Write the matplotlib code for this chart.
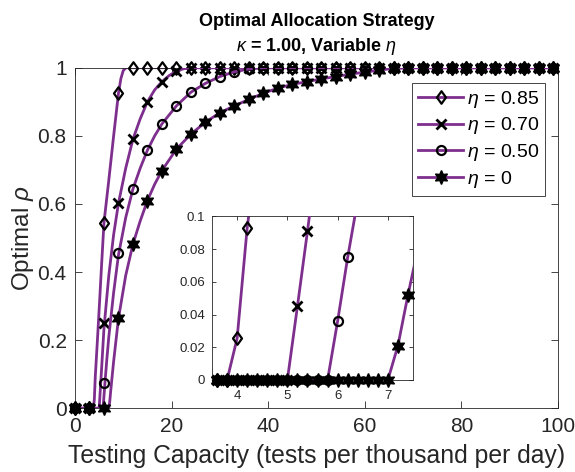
import numpy as np
import matplotlib
matplotlib.use("Agg")
import matplotlib.pyplot as plt
from matplotlib.lines import Line2D
from matplotlib.path import Path

plt.rcParams['font.family'] = ['Liberation Sans', 'DejaVu Sans']
plt.rcParams['mathtext.fontset'] = 'custom'
plt.rcParams['mathtext.rm'] = 'Liberation Sans'
plt.rcParams['mathtext.it'] = 'Liberation Sans:italic'
plt.rcParams['mathtext.bf'] = 'Liberation Sans:bold'

# Krzywe rho(T) odczytane dla kazdego eta
t85 = [0, 3.8, 4.0, 4.2, 4.6, 5.0, 5.5, 6.0, 7.0, 8.0, 9.0, 9.5, 10.0, 10.6, 100]
r85 = [0, 0, 0.0255, 0.093, 0.19, 0.29, 0.42, 0.545, 0.67, 0.80, 0.925, 0.968, 0.992, 1, 1]

t70 = [0, 5.0, 5.2, 5.4, 6.0, 7.0, 8.0, 9.0, 10.5, 12, 13.5, 15, 16.5, 18, 19.5, 21, 22.5, 24, 100]
r70 = [0, 0, 0.045, 0.091, 0.235, 0.39, 0.51, 0.602, 0.705, 0.79, 0.85, 0.90, 0.935, 0.959,
       0.977, 0.99, 0.997, 1, 1]

t50 = [0, 5.8, 6.0, 6.2, 6.6, 7.0, 8.0, 9.0, 10.5, 12, 13.5, 15, 16.5, 18, 21, 24, 27, 30,
       33, 36, 39, 100]
r50 = [0, 0, 0.036, 0.075, 0.145, 0.21, 0.34, 0.45, 0.56, 0.644, 0.705, 0.758, 0.80, 0.835,
       0.888, 0.928, 0.954, 0.974, 0.988, 0.996, 1, 1]

t0 = [0, 7.0, 7.2, 7.4, 8.0, 9.0, 10.5, 12, 13.5, 15, 16.5, 18, 21, 24, 27, 30, 33, 36, 39,
      42, 45, 48, 51, 54, 57, 60, 63, 66, 69, 100]
r0 = [0, 0, 0.021, 0.052, 0.138, 0.264, 0.39, 0.482, 0.55, 0.61, 0.658, 0.698, 0.761, 0.805,
      0.84, 0.868, 0.888, 0.907, 0.925, 0.94, 0.951, 0.959, 0.967, 0.974, 0.981, 0.987,
      0.993, 0.998, 1, 1]

# Znaczniki na glownym wykresie (co 3 jednostki)
t_mark = np.arange(0, 100, 3)
m85 = [0, 0, 0.545, 0.925] + [1] * 30
m70 = [0, 0, 0.25, 0.602, 0.79, 0.90, 0.959, 0.99] + [1] * 26
m50 = [0, 0, 0.075, 0.455, 0.644, 0.758, 0.835, 0.888, 0.928, 0.954, 0.974, 0.988,
       0.996] + [1] * 21
m0 = [0, 0, 0, 0.265, 0.482, 0.61, 0.698, 0.761, 0.805, 0.84, 0.868, 0.888, 0.907, 0.925,
      0.94, 0.951, 0.959, 0.967, 0.974, 0.981, 0.987, 0.993, 0.998] + [1] * 11

# Znaczniki w powiekszeniu (co 0.2), nan = poza zakresem osi
nan = np.nan
t_zoom = np.round(np.arange(3.6, 7.45, 0.2), 1)
z85 = [0, 0, 0.0255, 0.093] + [nan] * 16
z70 = [0] * 8 + [0.045, 0.091] + [nan] * 10
z50 = [0] * 12 + [0.036, 0.075] + [nan] * 6
z0 = [0] * 18 + [0.021, 0.052]

labels = [r'$\eta$ = 0.85', r'$\eta$ = 0.70', r'$\eta$ = 0.50', r'$\eta$ = 0']
purple = '#7E2F8E'
gray = '#262626'

# romb jak w MATLABie (szerszy niz 'd')
diamond = Path([(0, 1), (0.72, 0), (0, -1), (-0.72, 0), (0, 1)],
               [Path.MOVETO, Path.LINETO, Path.LINETO, Path.LINETO, Path.CLOSEPOLY])

styles = [
    dict(marker=diamond, markersize=9, markerfacecolor='none', markeredgecolor='k', markeredgewidth=1.6),
    dict(marker='x', markersize=7, markeredgecolor='k', markeredgewidth=2.0),
    dict(marker='o', markersize=6.5, markerfacecolor='none', markeredgecolor='k', markeredgewidth=1.6),
    dict(marker=(6, 1, 0), markersize=10, markerfacecolor='k', markeredgecolor='k', markeredgewidth=1.0),
]

lines = [(t85, r85), (t70, r70), (t50, r50), (t0, r0)]
marks = [m85, m70, m50, m0]
zooms = [z85, z70, z50, z0]

fig = plt.figure(figsize=(5.75, 4.72), dpi=100)
ax = fig.add_axes([75 / 575, (472 - 408.3) / 472, 483 / 575, 340.6 / 472])

for i in range(4):
    t, r = lines[i]
    ax.plot(t, r, color=purple, lw=2.0, zorder=2 + 2 * i)
    ax.plot(t_mark, marks[i], ls='none', clip_on=False, zorder=3 + 2 * i, **styles[i])

ax.set_xlim(0, 100)
ax.set_ylim(0, 1)
ax.set_xticks([0, 20, 40, 60, 80, 100])
ax.set_yticks([0, 0.2, 0.4, 0.6, 0.8, 1])
ax.set_yticklabels(['0', '0.2', '0.4', '0.6', '0.8', '1'])
ax.tick_params(direction='in', length=5, width=0.6, top=True, right=True,
               labelsize=15, colors=gray, pad=6)
for s in ax.spines.values():
    s.set_color(gray)
    s.set_linewidth(0.6)

ax.set_xlabel('Testing Capacity (tests per thousand per day)', fontsize=17.8, color=gray, labelpad=6)
ax.set_ylabel(r'Optimal $\rho$', fontsize=17.5, color=gray, labelpad=1)
ax.set_title('Optimal Allocation Strategy\n' + r'$\kappa$ = 1.00, Variable $\eta$',
             fontsize=13, fontweight='bold', pad=12, linespacing=1.4)

handles = [Line2D([], [], color=purple, lw=2.0, **styles[i]) for i in range(4)]
leg = ax.legend(handles, labels, loc='upper right', bbox_to_anchor=(0.973, 0.956),
                borderaxespad=0, fontsize=14, frameon=True, fancybox=False,
                framealpha=1, edgecolor=gray, handlelength=2.3, handletextpad=0.2,
                labelspacing=0.3, borderpad=0.3)
leg.get_frame().set_linewidth(0.6)

# Powiekszenie okolicy progu
axi = fig.add_axes([212 / 575, (472 - 380) / 472, 201 / 575, 163.5 / 472])
axi.set_facecolor('white')
for i in range(4):
    t, r = lines[i]
    axi.plot(t, r, color=purple, lw=2.0, zorder=2 + 2 * i)
    axi.plot(t_zoom, zooms[i], ls='none', clip_on=False, zorder=3 + 2 * i, **styles[i])
axi.set_xlim(3.5, 7.5)
axi.set_ylim(0, 0.1)
axi.set_xticks([4, 5, 6, 7])
axi.set_yticks([0, 0.02, 0.04, 0.06, 0.08, 0.1])
axi.set_yticklabels(['0', '0.02', '0.04', '0.06', '0.08', '0.1'])
axi.tick_params(direction='in', length=3, width=0.6, top=True, right=True,
                labelsize=9.5, colors=gray)
axi.tick_params(axis='x', pad=7)
axi.tick_params(axis='y', pad=5)
for s in axi.spines.values():
    s.set_color(gray)
    s.set_linewidth(0.6)

fig.savefig('out.png', dpi=100)
